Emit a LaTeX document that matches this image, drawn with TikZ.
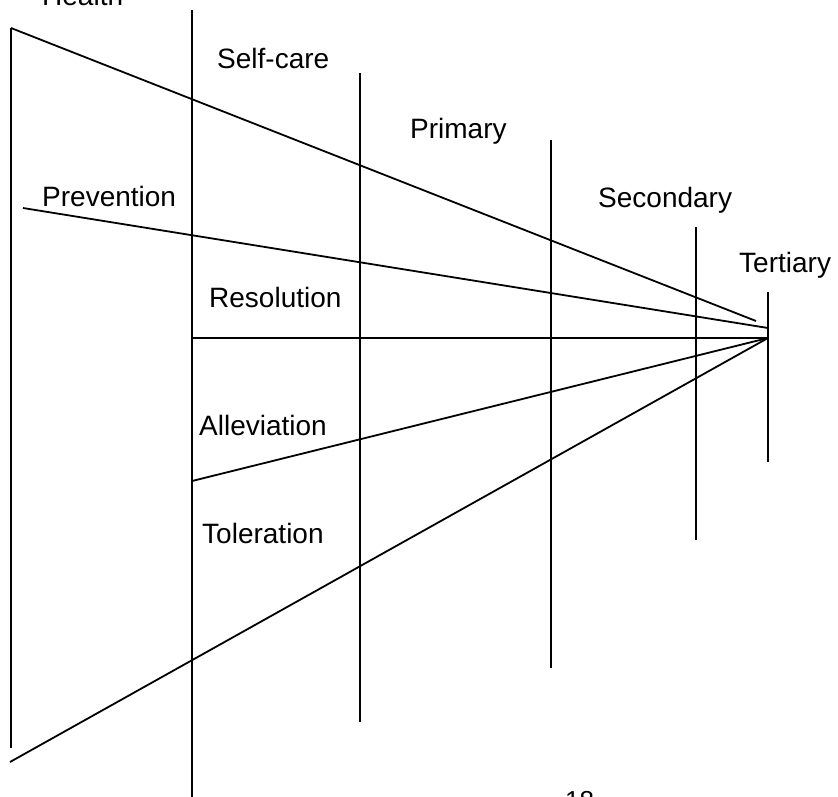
\documentclass[tikz,border=0pt]{standalone}
\usepackage{fontspec}
\setmainfont{Liberation Sans}
\begin{document}
\begin{tikzpicture}[x=1pt,y=-1pt,
  ln/.style={line width=1.8pt,line cap=butt},
  lbl/.style={anchor=base west,inner sep=0pt,font=\fontsize{28}{33}\selectfont},
  pg/.style={anchor=base west,inner sep=0pt,font=\fontsize{26}{31}\selectfont}]
\useasboundingbox (0,0) rectangle (838,796);
\clip (0,0) rectangle (838,796);
% coordinates
\coordinate (apex) at (768,338);
\coordinate (topL) at (11,28);
\coordinate (botL) at (11,748);
\coordinate (topEnd) at (756,321);
\coordinate (prevS) at (23,208);
\coordinate (prevE) at (768,328);
\coordinate (resS) at (192,338);
\coordinate (allS) at (192,481);
\coordinate (tolS) at (10,762);
\coordinate (v1t) at (192,10);  \coordinate (v1b) at (192,800);
\coordinate (v2t) at (360,73);  \coordinate (v2b) at (360,722);
\coordinate (v3t) at (551,140); \coordinate (v3b) at (551,668);
\coordinate (v4t) at (696,227); \coordinate (v4b) at (696,540);
\coordinate (v5t) at (768,292); \coordinate (v5b) at (768,462);
% vertical lines
\draw[ln] (topL) -- (botL);
\draw[ln] (v1t) -- (v1b);
\draw[ln] (v2t) -- (v2b);
\draw[ln] (v3t) -- (v3b);
\draw[ln] (v4t) -- (v4b);
\draw[ln] (v5t) -- (v5b);
% converging lines
\draw[ln] (topL) -- (topEnd);
\draw[ln] (prevS) -- (prevE);
\draw[ln] (resS) -- (apex);
\draw[ln] (allS) -- (apex);
\draw[ln] (tolS) -- (apex);
% labels
\node[lbl] (health) at (42,5) {Health};
\node[lbl] (selfcare) at (217,68) {Self-care};
\node[lbl] (primary) at (410,138) {Primary};
\node[lbl] (prevention) at (42,206) {Prevention};
\node[lbl] (secondary) at (598,207) {Secondary};
\node[lbl] (tertiary) at (739,272) {Tertiary};
\node[lbl] (resolution) at (209,307) {Resolution};
\node[lbl] (alleviation) at (199,435) {Alleviation};
\node[lbl] (toleration) at (202,543) {Toleration};
\node[pg] (page) at (565,809) {18};
\end{tikzpicture}
\end{document}
